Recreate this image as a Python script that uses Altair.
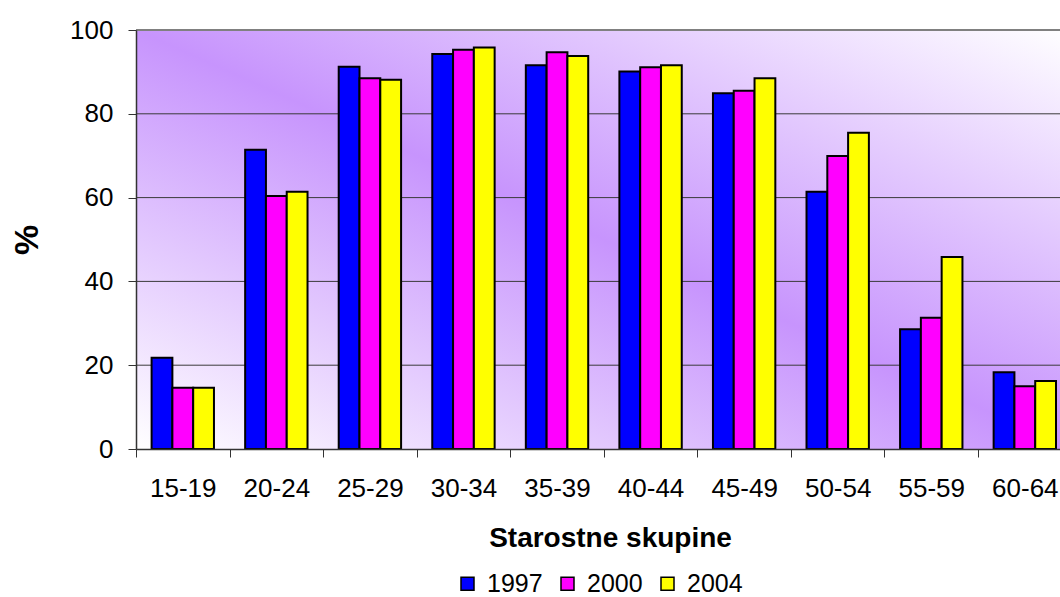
import altair as alt
import pandas as pd

groups = ["15-19", "20-24", "25-29", "30-34", "35-39", "40-44", "45-49", "50-54", "55-59", "60-64"]
years = ["1997", "2000", "2004"]
v1997 = [21.8, 71.4, 91.2, 94.3, 91.6, 90.1, 84.9, 61.4, 28.6, 18.3]
v2000 = [14.6, 60.4, 88.5, 95.3, 94.7, 91.1, 85.5, 69.9, 31.3, 15.0]
v2004 = [14.6, 61.4, 88.1, 95.8, 93.8, 91.6, 88.5, 75.5, 45.8, 16.2]
colors = ["#0000ff", "#ff00ff", "#ffff00"]
y_ticks = [0, 20, 40, 60, 80, 100]
grid_values = [20, 40, 60, 80]

rows = []
for yr, vals in zip(years, [v1997, v2000, v2004]):
    for g, v in zip(groups, vals):
        rows.append({"group": g, "year": yr, "value": v})
df = pd.DataFrame(rows)

W, H = 924, 419
FULL = 935.6
FONT = "Liberation Sans"

x_scale = alt.Scale(domain=groups, range=[0, FULL], paddingInner=0, paddingOuter=0)
y_scale = alt.Scale(domain=[0, 100], nice=False)

y_axis = alt.Axis(
    title="%", values=y_ticks, tickSize=8, labelPadding=15, labelFontSize=26,
    labelFont=FONT, labelColor="black", titleFont=FONT, titleFontSize=34,
    titleFontWeight="bold", titleColor="black", titleX=-109, titleY=H / 2,
    titleAngle=270, titleBaseline="middle", titleAlign="center", grid=False,
    domainColor="#333333", tickColor="#333333", domainWidth=1.5, zindex=1,
)
x_axis = alt.Axis(
    title="Starostne skupine", labelAngle=0, tickBand="extent", tickSize=8,
    labelPadding=31, labelBaseline="middle", labelFontSize=26, labelFont=FONT,
    labelColor="black", titleFont=FONT, titleFontSize=28, titleFontWeight="bold",
    titleColor="black", titleX=474, titleY=89, titleBaseline="middle",
    titleAlign="center", grid=False, domainColor="#333333", tickColor="#333333",
    domainWidth=1.5, zindex=1,
)

bg = alt.Chart(pd.DataFrame({"k": [0]})).mark_rect(
    fill=alt.Gradient(
        gradient="linear", x1=0, y1=1, x2=1, y2=0,
        stops=[
            alt.GradientStop(offset=0, color="#ffffff"),
            alt.GradientStop(offset=0.5, color="#c794fd"),
            alt.GradientStop(offset=1, color="#ffffff"),
        ],
    )
).encode(x=alt.value(0), x2=alt.value(FULL), y=alt.value(0), y2=alt.value(H))

grid = alt.Chart(pd.DataFrame({"g": grid_values})).mark_rule(
    color="#3a3a3a", strokeWidth=1
).encode(y=alt.Y("g:Q", scale=y_scale, axis=y_axis))

top = alt.Chart(pd.DataFrame({"t": [100]})).mark_rule(
    color="#808080", strokeWidth=2
).encode(y=alt.Y("t:Q", scale=y_scale, axis=y_axis))

legend = alt.Legend(
    title=None, orient="none", direction="horizontal", legendX=319, legendY=541,
    symbolType="square", symbolSize=169, symbolStrokeColor="black",
    symbolStrokeWidth=1.5, symbolOpacity=1, labelFontSize=25, labelFont=FONT,
    labelColor="black", labelOffset=7, columnPadding=12,
)

bars = alt.Chart(df).mark_bar(stroke="black", strokeWidth=2, opacity=1).encode(
    x=alt.X("group:N", scale=x_scale, sort=groups, axis=x_axis),
    xOffset=alt.XOffset("year:N", scale=alt.Scale(paddingInner=0, paddingOuter=0.75), sort=years),
    y=alt.Y("value:Q", scale=y_scale, axis=y_axis),
    color=alt.Color("year:N", scale=alt.Scale(domain=years, range=colors), legend=legend),
)

chart = alt.layer(bg, grid, top, bars).properties(
    width=W, height=H,
    autosize=alt.AutoSizeParams(type="none"),
    padding={"left": 136, "top": 30, "right": 0, "bottom": 148},
    background="white",
).configure_view(stroke="transparent").configure(font=FONT)

chart.save("out.html", embed_options={"renderer": "svg", "actions": False})
